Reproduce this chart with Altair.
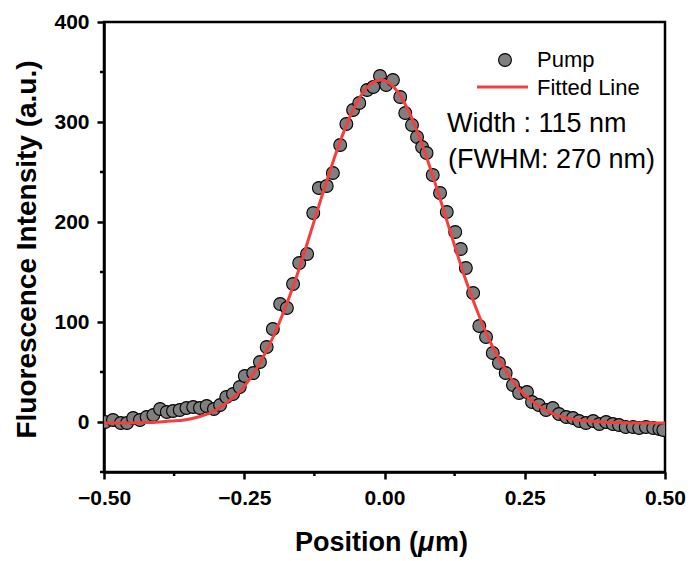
import altair as alt
import pandas as pd

# Measured data (Pump)
pump_x = [-0.498, -0.484, -0.470, -0.459, -0.448, -0.436, -0.424, -0.412, -0.400, -0.388,
          -0.377, -0.365, -0.353, -0.341, -0.329, -0.317, -0.304, -0.293, -0.282, -0.270,
          -0.258, -0.249, -0.234, -0.222, -0.210, -0.199, -0.186, -0.174, -0.163, -0.152,
          -0.138, -0.127, -0.117, -0.103, -0.092, -0.079, -0.068, -0.056, -0.045, -0.031,
          -0.020, -0.008, 0.003, 0.015, 0.028, 0.037, 0.049, 0.058, 0.067, 0.075,
          0.086, 0.099, 0.111, 0.126, 0.136, 0.145, 0.158, 0.169, 0.181, 0.193,
          0.204, 0.216, 0.229, 0.240, 0.254, 0.263, 0.275, 0.288, 0.300, 0.311,
          0.324, 0.336, 0.347, 0.359, 0.372, 0.383, 0.395, 0.407, 0.418, 0.430,
          0.443, 0.454, 0.466, 0.479, 0.490, 0.497]
pump_y = [0, 2, -1, -1, 4, 2, 5, 7, 13, 10,
          11, 12, 14, 15, 14, 16, 13, 17, 25, 28,
          35, 46, 49, 60, 75, 93, 118, 114, 138, 159,
          168, 209, 234, 236, 249, 277, 298, 312, 319, 332,
          335, 346, 337, 342, 325, 309, 297, 285, 275, 269,
          247, 229, 210, 190, 173, 154, 129, 96, 85, 69,
          59, 49, 37, 29, 30, 20, 17, 12, 14, 8,
          5, 4, 1, -1, 1, -2, 0, -2, -3, -5,
          -5, -6, -5, -6, -7, -8]

# Fitted line
fit_x = [-0.5, -0.457, -0.432, -0.407, -0.382, -0.357, -0.332, -0.307, -0.282, -0.257,
         -0.232, -0.207, -0.182, -0.157, -0.132, -0.107, -0.082, -0.057, -0.032, -0.007,
         0.018, 0.043, 0.068, 0.093, 0.118, 0.143, 0.168, 0.193, 0.218, 0.243,
         0.268, 0.293, 0.318, 0.343, 0.368, 0.393, 0.418, 0.443, 0.5]
fit_y = [-1, -1, -0.6, -0.2, 1, 2, 5, 10, 19, 31,
         50, 75, 107, 145, 189, 234, 276, 311, 334, 342,
         334, 311, 276, 234, 189, 145, 107, 75, 50, 31,
         19, 10, 5, 2, 1, -0.2, -0.6, -1, -1]

x_ticks = [-0.5, -0.25, 0.0, 0.25, 0.5]
x_minor = [-0.375, -0.125, 0.125, 0.375]
y_ticks = [0, 100, 200, 300, 400]
y_minor = [-50, 50, 150, 250, 350]

FONT = "Liberation Sans"
W, H = 561, 450
PT_SIZE = 165

xscale = alt.Scale(domain=[-0.5, 0.5], nice=False, zero=False)
yscale = alt.Scale(domain=[-50, 400], nice=False, zero=False)

xaxis = alt.Axis(values=x_ticks, format=".2f", title=None, labelFontSize=21,
                 labelFontWeight="bold", labelPadding=8, tickSize=7, tickWidth=2.5,
                 domainWidth=2.5, labelFont=FONT, grid=False, labelFlush=False)
yaxis = alt.Axis(values=y_ticks, format="d", title="Fluorescence Intensity (a.u.)",
                 labelFontSize=21, labelFontWeight="bold", labelPadding=8, tickSize=7,
                 tickWidth=2.5, domainWidth=2.5, labelFont=FONT, grid=False,
                 titleFont=FONT, titleFontSize=28, titleFontWeight="bold",
                 titleX=-77, titleY=227, titleAngle=-90, titleBaseline="middle",
                 titleAlign="center")

pts_df = pd.DataFrame({"x": pump_x, "y": pump_y})
fit_df = pd.DataFrame({"x": fit_x, "y": fit_y})

points = alt.Chart(pts_df).mark_circle(
    size=PT_SIZE, color="#7f7f7f", opacity=1, stroke="black", strokeWidth=1.1, clip=True
).encode(
    x=alt.X("x:Q", scale=xscale, axis=xaxis),
    y=alt.Y("y:Q", scale=yscale, axis=yaxis),
)

line = alt.Chart(fit_df).mark_line(
    color="#f2403f", strokeWidth=3, interpolate="monotone", clip=True
).encode(
    x=alt.X("x:Q", scale=xscale, axis=xaxis),
    y=alt.Y("y:Q", scale=yscale, axis=yaxis),
)

xminor = alt.Chart(pd.DataFrame({"x": x_minor})).mark_rule(
    color="black", strokeWidth=2.5
).encode(
    x=alt.X("x:Q", scale=xscale, axis=xaxis),
    y=alt.value(H), y2=alt.value(H + 4),
)

yminor = alt.Chart(pd.DataFrame({"y": y_minor})).mark_rule(
    color="black", strokeWidth=2.5
).encode(
    y=alt.Y("y:Q", scale=yscale, axis=yaxis),
    x=alt.value(0), x2=alt.value(-4),
)

# Legend
leg_pt = alt.Chart(pd.DataFrame({"a": [0]})).mark_circle(
    size=PT_SIZE, color="#7f7f7f", opacity=1, stroke="black", strokeWidth=1.1
).encode(x=alt.value(401), y=alt.value(38))
leg_line = alt.Chart(pd.DataFrame({"a": [0]})).mark_rule(
    color="#f2403f", strokeWidth=3
).encode(x=alt.value(373), x2=alt.value(424), y=alt.value(65))


def label(txt, x, y, size, weight="normal", style="normal", align="left"):
    return alt.Chart(pd.DataFrame({"t": [txt]})).mark_text(
        font=FONT, fontSize=size, fontWeight=weight, fontStyle=style, align=align,
        baseline="alphabetic", color="black"
    ).encode(text="t:N", x=alt.value(x), y=alt.value(y))


texts = [
    label("Pump", 433, 45, 22),
    label("Fitted Line", 433, 73, 22),
    label("Width : 115 nm", 343, 110, 27),
    label("(FWHM: 270 nm)", 344, 146, 27),
    label("Position (", 314, 529, 27, weight="bold", align="right"),
    label("\u03bc", 314, 529, 27, weight="bold", style="italic"),
    label("m)", 331, 529, 27, weight="bold"),
]

chart = alt.layer(points, line, xminor, yminor, leg_pt, leg_line, *texts).properties(
    width=W, height=H,
    autosize=alt.AutoSizeParams(type="none"),
    padding={"left": 104, "top": 22, "right": 25, "bottom": 89},
    background="white",
).configure_view(
    stroke="black", strokeWidth=2.5
).configure_axis(
    domainColor="black", tickColor="black", labelColor="black", titleColor="black"
)

chart.save("out.html", embed_options={"renderer": "svg", "actions": False})
